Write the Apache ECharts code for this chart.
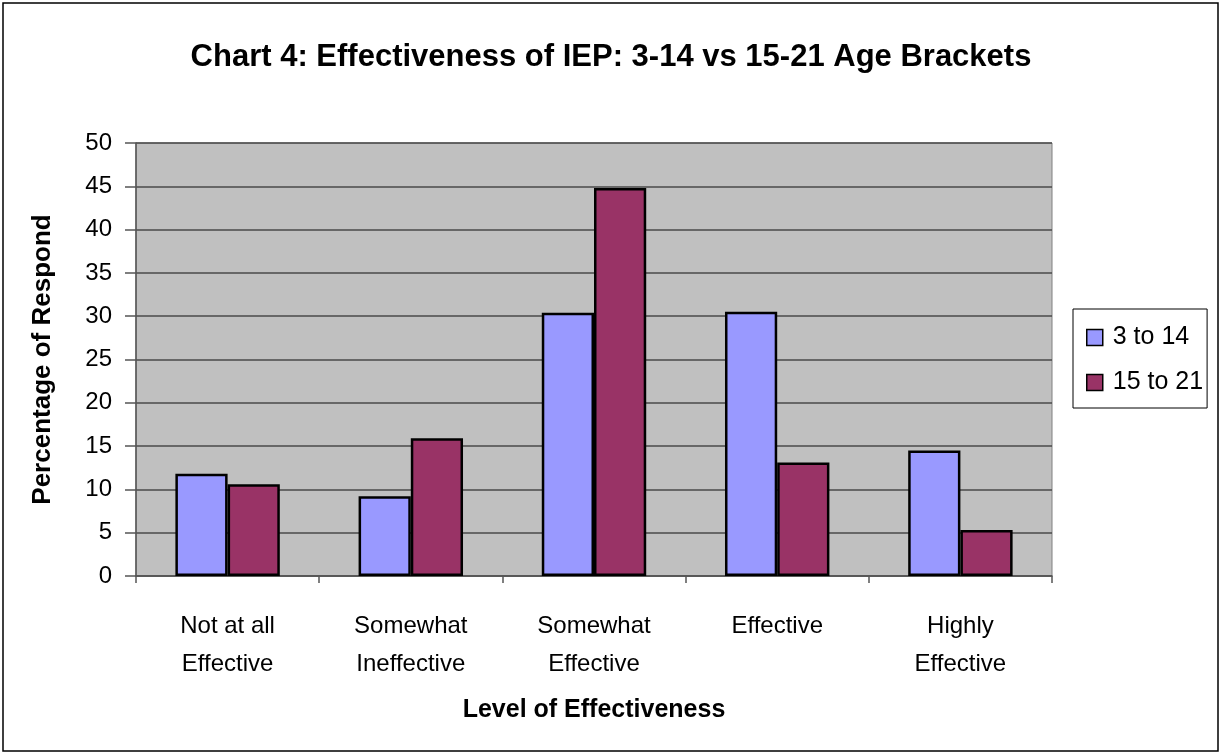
<!DOCTYPE html>
<html>
<head>
<meta charset="utf-8">
<style>
  html, body { margin: 0; padding: 0; background: #fff; }
  #chart { width: 1222px; height: 755px; }
</style>
<script src="https://cdn.jsdelivr.net/npm/echarts@6/dist/echarts.min.js"></script>
</head>
<body>
<div id="chart"></div>
<script>
var categories = ['Not at all\nEffective', 'Somewhat\nIneffective', 'Somewhat\nEffective', 'Effective', 'Highly\nEffective'];
var young = [11.8, 9.2, 30.4, 30.5, 14.5];
var older = [10.6, 15.9, 44.8, 13.1, 5.3];
var seriesNames = ['3 to 14', '15 to 21'];

var font = 'Liberation Sans, Arial, sans-serif';
var myChart = echarts.init(document.getElementById('chart'));
var option;

option = {
  animation: false,
  textStyle: { fontFamily: font },
  title: {
    text: 'Chart 4: Effectiveness of IEP: 3-14 vs 15-21 Age Brackets',
    left: 'center',
    top: 37,
    textStyle: { fontSize: 31, fontWeight: 'bold', color: '#000', fontFamily: font }
  },
  graphic: [
    {
      type: 'rect',
      shape: { x: 3, y: 3, width: 1215, height: 748 },
      style: { fill: 'none', stroke: '#000', lineWidth: 1.5 },
      silent: true
    }
  ],
  legend: {
    orient: 'vertical',
    left: 1073,
    top: 309,
    padding: [16, 4, 13, 13],
    itemGap: 20,
    itemWidth: 16,
    itemHeight: 16,
    borderColor: '#000',
    borderWidth: 1,
    icon: 'rect',
    itemStyle: { borderColor: '#000', borderWidth: 1.5 },
    textStyle: { fontSize: 25, color: '#000', fontFamily: font, padding: [0, 0, 0, 5] },
    data: seriesNames
  },
  grid: {
    left: 136,
    right: 170,
    top: 143,
    bottom: 179,
    show: true,
    backgroundColor: '#c0c0c0',
    borderColor: '#808080',
    borderWidth: 1
  },
  xAxis: {
    type: 'category',
    data: categories,
    name: 'Level of Effectiveness',
    nameLocation: 'middle',
    nameGap: 122,
    nameTextStyle: { fontSize: 25, fontWeight: 'bold', color: '#000' },
    axisLine: { lineStyle: { color: '#555', width: 1.5 } },
    axisTick: { show: true, alignWithLabel: false, length: 7, lineStyle: { color: '#555', width: 1.5 } },
    axisLabel: { fontSize: 24, color: '#000', margin: 31, lineHeight: 38, interval: 0 }
  },
  yAxis: {
    type: 'value',
    min: 0,
    max: 50,
    interval: 5,
    name: 'Percentage of Respondents',
    nameLocation: 'middle',
    nameGap: 80,
    nameTruncate: { maxWidth: 292, ellipsis: '' },
    nameTextStyle: { fontSize: 26, fontWeight: 'bold', color: '#000' },
    axisLine: { show: true, lineStyle: { color: '#555', width: 1.5 } },
    axisTick: { show: true, length: 11, lineStyle: { color: '#555', width: 1.5 } },
    axisLabel: { fontSize: 24, color: '#000', margin: 24 },
    splitLine: { lineStyle: { color: '#4a4a4a', width: 1.5 } }
  },
  series: [
    {
      name: seriesNames[0],
      type: 'bar',
      data: young,
      barGap: '0%',
      barCategoryGap: '43%',
      itemStyle: { color: '#9999ff', borderColor: '#000', borderWidth: 2.5 }
    },
    {
      name: seriesNames[1],
      type: 'bar',
      data: older,
      itemStyle: { color: '#993366', borderColor: '#000', borderWidth: 2.5 }
    }
  ]
};

option && myChart.setOption(option);
</script>
</body>
</html>
